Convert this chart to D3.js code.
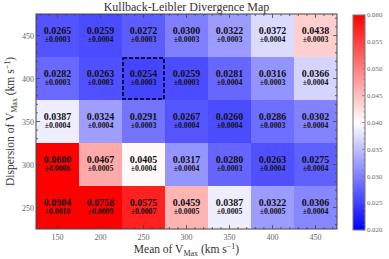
<!DOCTYPE html>
<html>
<head>
<meta charset="utf-8">
<script src="https://cdn.jsdelivr.net/npm/d3@7"></script>
<style>
  body { margin: 0; background: #fff; }
  text { font-family: "Liberation Serif", "DejaVu Serif", serif; }
</style>
</head>
<body>
<div id="showBox"></div>
<script>
// data
const meanVmax = [150, 200, 250, 300, 350, 400, 450]
const dispVmax = [450, 400, 350, 300, 250]
const klValues = [
    [0.0265, 0.0259, 0.0272, 0.0300, 0.0322, 0.0372, 0.0438],
    [0.0282, 0.0263, 0.0254, 0.0259, 0.0281, 0.0316, 0.0366],
    [0.0387, 0.0324, 0.0291, 0.0267, 0.0260, 0.0286, 0.0302],
    [0.0600, 0.0467, 0.0405, 0.0317, 0.0280, 0.0263, 0.0275],
    [0.0904, 0.0758, 0.0575, 0.0459, 0.0387, 0.0322, 0.0306]
]
const klErrors = [
    [0.0003, 0.0004, 0.0003, 0.0003, 0.0003, 0.0004, 0.0003],
    [0.0003, 0.0003, 0.0003, 0.0003, 0.0004, 0.0003, 0.0004],
    [0.0004, 0.0004, 0.0003, 0.0004, 0.0004, 0.0003, 0.0004],
    [0.0006, 0.0005, 0.0004, 0.0004, 0.0003, 0.0004, 0.0004],
    [0.0010, 0.0009, 0.0007, 0.0005, 0.0005, 0.0005, 0.0004]
]
const bestCell = {mean: 250, disp: 400}
const colorTicks = [0.020, 0.025, 0.030, 0.035, 0.040, 0.045, 0.050, 0.055, 0.060]

const W = 389, H = 259
const m = {left: 36, top: 14, right: 337, bottom: 229}
const axisCol = "#444", tickTextCol = "#666"

const x = d3.scaleLinear().domain([125, 475]).range([m.left, m.right])
const y = d3.scaleLinear().domain([225, 475]).range([m.bottom, m.top])
const bwr = d3.scaleLinear().domain([0.02, 0.04, 0.06])
    .range(["rgb(0,0,255)", "rgb(255,255,255)", "rgb(255,0,0)"]).clamp(true)

const svg = d3.select("#showBox").append("svg")
    .attr("width", W).attr("height", H)

const cells = []
dispVmax.forEach((dv, i) => meanVmax.forEach((mv, j) => {
    cells.push({mean: mv, disp: dv, v: klValues[i][j], e: klErrors[i][j]})
}))

svg.append("g").selectAll("rect")
    .data(cells)
    .join("rect")
    .attr("x", d => x(d.mean - 25))
    .attr("y", d => y(d.disp + 25))
    .attr("width", d => x(d.mean + 25) - x(d.mean - 25))
    .attr("height", d => y(d.disp - 25) - y(d.disp + 25))
    .attr("fill", d => bwr(d.v))
    .attr("shape-rendering", "crispEdges")

const labels = svg.append("g").attr("text-anchor", "middle").attr("fill", "#111")
labels.selectAll("text.val")
    .data(cells)
    .join("text")
    .attr("class", "val")
    .attr("x", d => x(d.mean))
    .attr("y", d => y(d.disp) - 1.5)
    .attr("font-size", 10)
    .attr("font-weight", "bold")
    .text(d => d.v.toFixed(4))
labels.selectAll("text.err")
    .data(cells)
    .join("text")
    .attr("class", "err")
    .attr("x", d => x(d.mean))
    .attr("y", d => y(d.disp) + 6.5)
    .attr("font-size", 7.8)
    .attr("font-weight", "bold")
    .text(d => "\u00b1" + d.e.toFixed(4))

// dashed box around the best cell
svg.append("rect")
    .attr("x", x(bestCell.mean - 25) + 1)
    .attr("y", y(bestCell.disp + 25) + 1)
    .attr("width", x(bestCell.mean + 25) - x(bestCell.mean - 25) - 2)
    .attr("height", y(bestCell.disp - 25) - y(bestCell.disp + 25) - 2)
    .attr("fill", "none")
    .attr("stroke", "#000")
    .attr("stroke-width", 1.5)
    .attr("stroke-dasharray", "4,2")

// ticks (inside, all four sides) with minor ticks
const xMajor = meanVmax, yMajor = [250, 300, 350, 400, 450]
const xMinor = d3.range(130, 475, 10).filter(v => v % 50 !== 0)
const yMinor = d3.range(230, 475, 10).filter(v => v % 50 !== 0)
const tg = svg.append("g").attr("stroke", axisCol).attr("stroke-width", 0.8)
function vTicks(vals, len) {
    vals.forEach(v => {
        tg.append("line").attr("x1", x(v)).attr("x2", x(v)).attr("y1", m.bottom).attr("y2", m.bottom - len)
        tg.append("line").attr("x1", x(v)).attr("x2", x(v)).attr("y1", m.top).attr("y2", m.top + len)
    })
}
function hTicks(vals, len) {
    vals.forEach(v => {
        tg.append("line").attr("y1", y(v)).attr("y2", y(v)).attr("x1", m.left).attr("x2", m.left + len)
        tg.append("line").attr("y1", y(v)).attr("y2", y(v)).attr("x1", m.right).attr("x2", m.right - len)
    })
}
vTicks(xMajor, 4); vTicks(xMinor, 2)
hTicks(yMajor, 4); hTicks(yMinor, 2)

svg.append("rect")
    .attr("x", m.left).attr("y", m.top)
    .attr("width", m.right - m.left).attr("height", m.bottom - m.top)
    .attr("fill", "none").attr("stroke", axisCol).attr("stroke-width", 1)

svg.append("g").attr("text-anchor", "middle").attr("fill", tickTextCol).attr("font-size", 8)
    .selectAll("text").data(xMajor).join("text")
    .attr("x", d => x(d)).attr("y", m.bottom + 11).text(d => d)
svg.append("g").attr("text-anchor", "end").attr("fill", tickTextCol).attr("font-size", 8)
    .selectAll("text").data(yMajor).join("text")
    .attr("x", m.left - 2).attr("y", d => y(d) + 3).text(d => d)

// titles
svg.append("text")
    .attr("x", (m.left + m.right) / 2).attr("y", 11)
    .attr("text-anchor", "middle").attr("font-size", 12).attr("fill", "#333")
    .text("Kullback-Leibler Divergence Map")

const xl = svg.append("text")
    .attr("x", (m.left + m.right) / 2).attr("y", 253)
    .attr("text-anchor", "middle").attr("font-size", 11.5).attr("fill", "#333")
xl.append("tspan").text("Mean of V")
xl.append("tspan").attr("font-size", 8).attr("dy", 2.5).text("Max")
xl.append("tspan").attr("dy", -2.5).text(" (km s")
xl.append("tspan").attr("font-size", 8).attr("dy", -4).text("\u22121")
xl.append("tspan").attr("dy", 4).text(")")

const yl = svg.append("text")
    .attr("transform", `translate(14,${(m.top + m.bottom) / 2}) rotate(-90)`)
    .attr("text-anchor", "middle").attr("font-size", 11.5).attr("fill", "#333")
yl.append("tspan").text("Dispersion of V")
yl.append("tspan").attr("font-size", 8).attr("dy", 2.5).text("Max")
yl.append("tspan").attr("dy", -2.5).text(" (km s")
yl.append("tspan").attr("font-size", 8).attr("dy", -4).text("\u22121")
yl.append("tspan").attr("dy", 4).text(")")

// colorbar
const cb = {x: 353, w: 12, top: 15, bottom: 230}
const cy = d3.scaleLinear().domain([0.02, 0.06]).range([cb.bottom, cb.top])
const defs = svg.append("defs")
const grad = defs.append("linearGradient").attr("id", "bwr")
    .attr("x1", 0).attr("x2", 0).attr("y1", 1).attr("y2", 0)
grad.selectAll("stop").data([0.02, 0.04, 0.06]).join("stop")
    .attr("offset", d => (d - 0.02) / 0.04)
    .attr("stop-color", d => bwr(d))
svg.append("rect")
    .attr("x", cb.x).attr("y", cb.top).attr("width", cb.w).attr("height", cb.bottom - cb.top)
    .attr("fill", "url(#bwr)").attr("stroke", "#777").attr("stroke-width", 1)

const cbMinor = d3.range(0.021, 0.06, 0.001).filter(v => Math.round(v * 1000) % 5 !== 0)
svg.append("g").attr("stroke", "#777").attr("stroke-width", 0.7)
    .selectAll("line").data(colorTicks.map(v => [v, 3]).concat(cbMinor.map(v => [v, 1.5])))
    .join("line")
    .attr("x1", cb.x + cb.w).attr("x2", d => cb.x + cb.w - d[1])
    .attr("y1", d => cy(d[0])).attr("y2", d => cy(d[0]))
svg.append("g").attr("fill", tickTextCol).attr("font-size", 6.8)
    .selectAll("text").data(colorTicks).join("text")
    .attr("x", cb.x + cb.w + 2).attr("y", d => cy(d) + 2.3)
    .text(d => d.toFixed(3))
</script>
</body>
</html>
